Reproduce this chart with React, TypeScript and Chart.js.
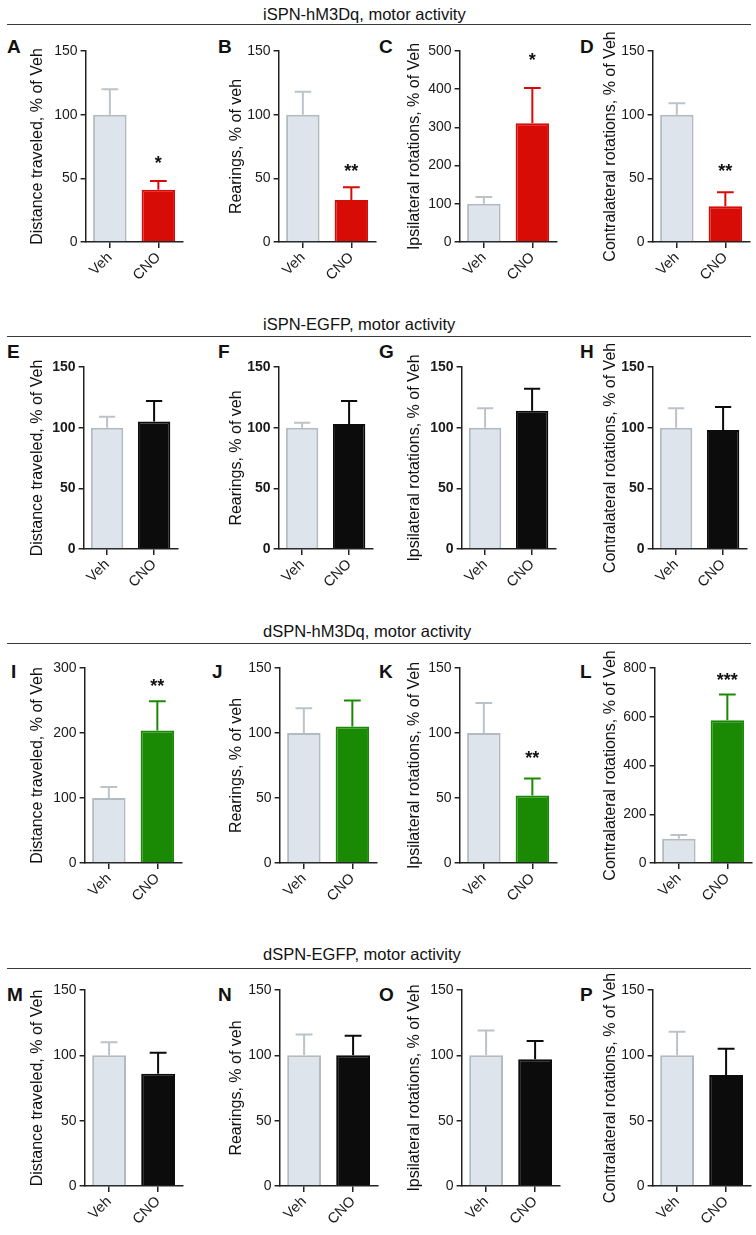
import React, { useEffect, useRef } from "react";
import { Chart, registerables } from "chart.js";

Chart.register(...registerables);
Chart.defaults.font.family = "'Liberation Sans', Arial, Helvetica, sans-serif";

// ---------- data ----------
const categories = ["Veh", "CNO"];
const rowTitles = [
  "iSPN-hM3Dq, motor activity",
  "iSPN-EGFP, motor activity",
  "dSPN-hM3Dq, motor activity",
  "dSPN-EGFP, motor activity",
];
const panelLetters = ["A", "B", "C", "D", "E", "F", "G", "H", "I", "J", "K", "L", "M", "N", "O", "P"];
const yAxisTitles = [
  "Distance traveled, % of Veh",
  "Rearings, % of veh",
  "Ipsilateral rotations, % of Veh",
  "Contralateral rotations, % of Veh",
];
const yMax = [150, 150, 500, 150, 150, 150, 150, 150, 300, 150, 150, 800, 150, 150, 150, 150];
const yStep = [50, 50, 100, 50, 50, 50, 50, 50, 100, 50, 50, 200, 50, 50, 50, 50];
const vehMean = [100, 100, 100, 100, 100, 100, 100, 100, 100, 100, 100, 100, 100, 100, 100, 100];
const vehErr = [20, 18, 18, 9, 9, 4, 16, 16, 17, 19, 23, 15, 10, 16, 19, 18];
const cnoMean = [41, 33, 311, 28, 105, 103, 114, 98, 204, 105, 52, 586, 86, 100, 97, 85];
const cnoErr = [7, 10, 92, 11, 17, 19, 18, 19, 45, 20, 13, 105, 16, 15, 14, 20];
const sigLabel = ["*", "**", "*", "**", "", "", "", "", "**", "", "**", "***", "", "", "", ""];
const sigLevel = [64, 58, 484, 58, 0, 0, 0, 0, 277, 0, 83, 762, 0, 0, 0, 0];

// ---------- layout & style ----------
const rowCno = ["#d70c06", "#0c0c0c", "#1a8a04", "#0c0c0c"];
const VEH_FILL = "#dde4eb";
const VEH_BORDER = "#b3bbc1";
const VEH_ERR = "#bcc3c8";
const AXIS = "#222222";

const rowAxisX = [
  [86, 279, 460, 653],
  [84, 279, 462, 653],
  [85, 280, 460, 655],
  [85, 280, 462, 653],
];
const rowPlotW = [97, 94, 97, 98];
const rowPlotTop = [51, 367, 668, 990];
const rowPlotBottom = [242, 549, 863, 1186];
const colTitleX = [38, 237, 415, 611];
const rowTitleBaseline = [20, 330, 637, 960];
const rowLineY = [25, 337, 644, 969];
const rowLetterCapTop = [39, 344, 664, 987];
const colLetterX = [7, 218, 379, 580];

const TITLE_FONT = 16;
const TITLE_LH = TITLE_FONT * 1.2;
const PAD_TOP = 30;
const X_H = 52;
const PAD_RIGHT = 12;

const errorBarPlugin = {
  id: "errorBars",
  afterDatasetsDraw(chart: any) {
    const idx = chart.options.plugins.errorBars.idx as number;
    const row = Math.floor(idx / 4);
    const ctx = chart.ctx;
    const yScale = chart.scales.y;
    const meta = chart.getDatasetMeta(0);
    const tops = [vehMean[idx] + vehErr[idx], cnoMean[idx] + cnoErr[idx]];
    const cols = [VEH_ERR, rowCno[row]];
    ctx.save();
    meta.data.forEach((bar: any, i: number) => {
      const x = bar.x;
      const yb = bar.y;
      const yt = yScale.getPixelForValue(tops[i]);
      const half = bar.width / 4;
      ctx.strokeStyle = cols[i];
      ctx.lineWidth = 2;
      ctx.beginPath();
      ctx.moveTo(x, yb);
      ctx.lineTo(x, yt);
      ctx.moveTo(x - half, yt);
      ctx.lineTo(x + half, yt);
      ctx.stroke();
    });
    if (sigLabel[idx]) {
      const cno = meta.data[1];
      ctx.fillStyle = "#111";
      ctx.font = "bold 18px 'Liberation Sans', Arial, sans-serif";
      ctx.textAlign = "center";
      ctx.textBaseline = "middle";
      ctx.fillText(sigLabel[idx], cno.x, yScale.getPixelForValue(sigLevel[idx]) + 4);
    }
    ctx.restore();
  },
};

function Panel({ idx }: { idx: number }) {
  const ref = useRef<HTMLCanvasElement>(null);
  const row = Math.floor(idx / 4);
  const col = idx % 4;
  const axisX = rowAxisX[row][col];
  const plotW = rowPlotW[row];
  const plotH = rowPlotBottom[row] - rowPlotTop[row];
  const left = colTitleX[col] - TITLE_LH / 2;
  const yW = axisX - left;
  const top = rowPlotTop[row] - PAD_TOP;
  const width = Math.round(yW + plotW + PAD_RIGHT);
  const height = PAD_TOP + plotH + X_H;

  useEffect(() => {
    const canvas = ref.current;
    if (!canvas) return;
    const tickFont = { size: 14, weight: row === 1 ? "bold" : "normal" } as any;
    const chart = new Chart(canvas, {
      type: "bar",
      data: {
        labels: categories,
        datasets: [
          {
            data: [vehMean[idx], cnoMean[idx]],
            backgroundColor: [VEH_FILL, rowCno[row]],
            borderColor: [VEH_BORDER, rowCno[row]],
            borderWidth: 2,
            categoryPercentage: 1,
            barPercentage: 0.69,
          },
        ],
      },
      options: {
        responsive: false,
        animation: false,
        events: [],
        layout: { padding: { top: PAD_TOP, right: width - yW - plotW, left: 0, bottom: 0 } },
        plugins: {
          legend: { display: false },
          tooltip: { enabled: false },
          errorBars: { idx },
        } as any,
        scales: {
          x: {
            offset: true,
            grid: {
              display: true,
              drawOnChartArea: false,
              drawTicks: true,
              tickLength: 6,
              offset: false,
              color: AXIS,
              lineWidth: 1.5,
            },
            border: { display: true, color: AXIS, width: 1.5 },
            ticks: {
              minRotation: 45,
              maxRotation: 45,
              padding: 1,
              color: "#1a1a1a",
              font: { size: 14.5 },
            },
            afterFit: (s: any) => {
              s.height = X_H;
            },
          },
          y: {
            min: 0,
            max: yMax[idx],
            grid: {
              display: true,
              drawOnChartArea: false,
              drawTicks: true,
              tickLength: 5,
              color: AXIS,
              lineWidth: 1.5,
            },
            border: { display: true, color: AXIS, width: 1.5 },
            ticks: {
              stepSize: yStep[idx],
              padding: 3,
              color: "#1a1a1a",
              font: tickFont,
            },
            title: {
              display: true,
              text: yAxisTitles[col],
              color: "#111",
              padding: 0,
              font: { size: TITLE_FONT },
            },
            afterFit: (s: any) => {
              s.width = yW;
            },
          },
        },
      },
      plugins: [errorBarPlugin],
    } as any);
    return () => chart.destroy();
  }, [idx]);

  return (
    <canvas
      ref={ref}
      width={width}
      height={height}
      style={{ position: "absolute", left, top, width, height }}
    />
  );
}

export default function App() {
  const letterFont = 19;
  const titleFont = 16.5;
  return (
    <div
      style={{
        position: "absolute",
        left: 0,
        top: 0,
        width: 756,
        height: 1235,
        background: "#fff",
        fontFamily: "'Liberation Sans', Arial, Helvetica, sans-serif",
        overflow: "hidden",
      }}
    >
      {rowTitles.map((t, r) => (
        <React.Fragment key={"r" + r}>
          <div
            style={{
              position: "absolute",
              left: 263,
              top: rowTitleBaseline[r] - titleFont * 0.8465,
              fontSize: titleFont,
              lineHeight: 1,
              color: "#111",
              whiteSpace: "nowrap",
            }}
          >
            {t}
          </div>
          <div
            style={{
              position: "absolute",
              left: 7,
              width: 744,
              top: rowLineY[r] - 0.75,
              height: 0,
              borderTop: "1.5px solid #3a3a3a",
            }}
          />
        </React.Fragment>
      ))}
      {panelLetters.map((L, i) => {
        const r = Math.floor(i / 4);
        const c = i % 4;
        return (
          <div
            key={"l" + i}
            style={{
              position: "absolute",
              left: colLetterX[c] + (L === "I" ? 4 : 0) - (L === "J" ? 6 : 0),
              top: rowLetterCapTop[r] - 2.5,
              fontSize: letterFont,
              fontWeight: "bold",
              lineHeight: 1,
              color: "#111",
            }}
          >
            {L}
          </div>
        );
      })}
      {panelLetters.map((_, i) => (
        <Panel key={"p" + i} idx={i} />
      ))}
    </div>
  );
}
